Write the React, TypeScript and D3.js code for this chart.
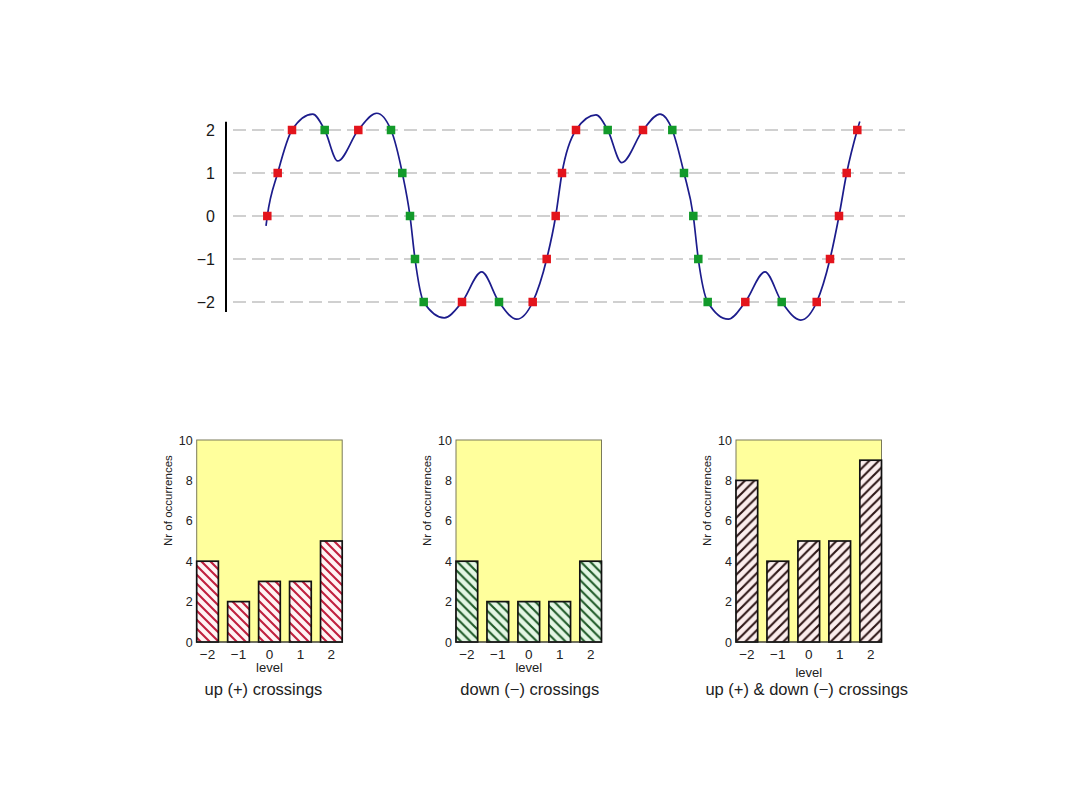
import React, { useEffect, useRef } from "react";
import * as d3 from "d3";

// samples of the signal: [time, value]
const signal: [number, number][] = [
  [40, -0.23], [41.3, 0], [51.7, 1], [66, 2], [86.7, 2.37], [98.7, 2],
  [111.7, 1.28], [132.3, 2], [150.7, 2.39], [165, 2], [176.3, 1], [184, 0],
  [189, -1], [197.7, -2], [218.3, -2.37], [236, -2], [255.7, -1.3], [273, -2],
  [290.7, -2.4], [306.7, -2], [320.7, -1], [329.7, 0], [336, 1], [350, 2],
  [370, 2.35], [381.7, 2], [395.7, 1.24], [417, 2], [434, 2.37], [446.3, 2],
  [458, 1], [467.3, 0], [472.3, -1], [481.7, -2], [502.3, -2.4], [519.3, -2],
  [539, -1.3], [555.7, -2], [574.7, -2.42], [590.7, -2], [604, -1], [613, 0],
  [620.7, 1], [631.3, 2], [633.8, 2.2],
];

// level crossings: [time, level]
const upCrossings: [number, number][] = [
  [41.3, 0], [51.7, 1], [66, 2], [132.3, 2], [236, -2], [306.7, -2],
  [320.7, -1], [329.7, 0], [336, 1], [350, 2], [417, 2], [519.3, -2],
  [590.7, -2], [604, -1], [613, 0], [620.7, 1], [631.3, 2],
];
const downCrossings: [number, number][] = [
  [98.7, 2], [165, 2], [176.3, 1], [184, 0], [189, -1], [197.7, -2],
  [273, -2], [381.7, 2], [446.3, 2], [458, 1], [467.3, 0], [472.3, -1],
  [481.7, -2], [555.7, -2],
];

const levels = [-2, -1, 0, 1, 2];
const upCounts = [4, 2, 3, 3, 5];
const downCounts = [4, 2, 2, 2, 4];
const allCounts = [8, 4, 5, 5, 9];
const countTicks = [0, 2, 4, 6, 8, 10];
const histTitles = [
  "up (+) crossings",
  "down (\u2212) crossings",
  "up (+) & down (\u2212) crossings",
];

const FONT = "'Liberation Sans', Arial, Helvetica, sans-serif";
const fmt = (d: number) => (d < 0 ? "\u2212" + Math.abs(d) : String(d));

const App: React.FC = () => {
  const svgRef = useRef<SVGSVGElement | null>(null);

  useEffect(() => {
    if (!svgRef.current) return;
    const svg = d3.select(svgRef.current);
    svg.selectAll("*").remove();

    svg.append("rect").attr("width", 1080).attr("height", 810).attr("fill", "#fff");

    // hachures
    const defs = svg.append("defs");
    const hatch = (id: string, s: number, fill: string, stroke: string, back: boolean) => {
      const p = defs
        .append("pattern")
        .attr("id", id)
        .attr("patternUnits", "userSpaceOnUse")
        .attr("width", s)
        .attr("height", s);
      p.append("rect").attr("width", s).attr("height", s).attr("fill", fill);
      const d = back
        ? `M0,0 L${s},${s} M${-s / 4},${(3 * s) / 4} l${s / 2},${s / 2} M${(3 * s) / 4},${-s / 4} l${s / 2},${s / 2}`
        : `M0,${s} L${s},0 M${-s / 4},${s / 4} l${s / 2},${-s / 2} M${(3 * s) / 4},${(5 * s) / 4} l${s / 2},${-s / 2}`;
      p.append("path").attr("d", d).attr("stroke", stroke).attr("stroke-width", 2.1);
    };
    hatch("hatchUp", 9, "#fff4f4", "#c0213f", true);
    hatch("hatchDown", 9.5, "#e4f6e4", "#1f5a28", true);
    hatch("hatchAll", 9.5, "#fbeeee", "#2e1717", false);

    // ---- signal en haut
    const x = d3.scaleLinear().domain([0, 680]).range([226, 906]);
    const y = d3.scaleLinear().domain([-2, 2]).range([302, 130]);

    const top = svg.append("g");
    top
      .selectAll("line.level")
      .data(levels)
      .enter()
      .append("line")
      .attr("x1", x(7))
      .attr("x2", x(679))
      .attr("y1", (d) => y(d))
      .attr("y2", (d) => y(d))
      .attr("stroke", "#a2a2a2")
      .attr("stroke-width", 1.2)
      .attr("stroke-dasharray", "13 6");

    top
      .append("line")
      .attr("x1", x(0))
      .attr("x2", x(0))
      .attr("y1", y(2.19))
      .attr("y2", y(-2.23))
      .attr("stroke", "#000")
      .attr("stroke-width", 2);

    top
      .selectAll("text.tick")
      .data(levels)
      .enter()
      .append("text")
      .attr("x", 215)
      .attr("y", (d) => y(d))
      .attr("dy", "0.36em")
      .attr("text-anchor", "end")
      .style("font-family", FONT)
      .style("font-size", "16px")
      .attr("fill", "#1a1a1a")
      .text((d) => fmt(d));

    const line = d3
      .line<[number, number]>()
      .x((d) => x(d[0]))
      .y((d) => y(d[1]))
      .curve(d3.curveMonotoneX);
    top
      .append("path")
      .attr("d", line(signal))
      .attr("fill", "none")
      .attr("stroke", "#1c1c8c")
      .attr("stroke-width", 1.7);

    const ms = 8.5;
    top
      .selectAll("rect.up")
      .data(upCrossings)
      .enter()
      .append("rect")
      .attr("x", (d) => x(d[0]) - ms / 2)
      .attr("y", (d) => y(d[1]) - ms / 2)
      .attr("width", ms)
      .attr("height", ms)
      .attr("fill", "#e3141c");
    top
      .selectAll("rect.down")
      .data(downCrossings)
      .enter()
      .append("rect")
      .attr("x", (d) => x(d[0]) - ms / 2)
      .attr("y", (d) => y(d[1]) - ms / 2)
      .attr("width", ms)
      .attr("height", ms)
      .attr("fill", "#129a2a");

    // ---- histogrammes
    const panels = [
      { left: 196.7, counts: upCounts, pat: "hatchUp", levelY: 672, title: histTitles[0], titleDx: -6 },
      { left: 456, counts: downCounts, pat: "hatchDown", levelY: 672, title: histTitles[1], titleDx: 1 },
      { left: 736, counts: allCounts, pat: "hatchAll", levelY: 677, title: histTitles[2], titleDx: -2 },
    ];
    const pw = 145.5;
    const hy = d3.scaleLinear().domain([0, 10]).range([642, 440]);

    panels.forEach((p) => {
      const hx = d3.scaleLinear().domain([-2.35, 2.35]).range([p.left, p.left + pw]);
      const g = svg.append("g");
      g.append("rect")
        .attr("x", p.left)
        .attr("y", hy(10))
        .attr("width", pw)
        .attr("height", hy(0) - hy(10))
        .attr("fill", "#ffff9c")
        .attr("stroke", "#7a7a5a")
        .attr("stroke-width", 1);

      g.selectAll("rect.bar")
        .data(levels)
        .enter()
        .append("rect")
        .attr("x", (d) => hx(d - 0.35))
        .attr("width", hx(0.35) - hx(-0.35))
        .attr("y", (d, i) => hy(p.counts[i]))
        .attr("height", (d, i) => hy(0) - hy(p.counts[i]))
        .attr("fill", `url(#${p.pat})`)
        .attr("stroke", "#111")
        .attr("stroke-width", 1.7);

      g.append("line")
        .attr("x1", p.left)
        .attr("x2", p.left + pw)
        .attr("y1", hy(0))
        .attr("y2", hy(0))
        .attr("stroke", "#222")
        .attr("stroke-width", 1);

      g.selectAll("text.yt")
        .data(countTicks)
        .enter()
        .append("text")
        .attr("x", p.left - 4)
        .attr("y", (d) => hy(d))
        .attr("dy", "0.36em")
        .attr("text-anchor", "end")
        .style("font-family", FONT)
        .style("font-size", "12.5px")
        .attr("fill", "#222")
        .text((d) => String(d));

      g.selectAll("text.xt")
        .data(levels)
        .enter()
        .append("text")
        .attr("x", (d) => hx(d))
        .attr("y", 659)
        .attr("text-anchor", "middle")
        .style("font-family", FONT)
        .style("font-size", "13.5px")
        .attr("fill", "#222")
        .text((d) => fmt(d));

      g.append("text")
        .attr("x", p.left + pw / 2)
        .attr("y", p.levelY)
        .attr("text-anchor", "middle")
        .style("font-family", FONT)
        .style("font-size", "13px")
        .attr("fill", "#222")
        .text("level");

      g.append("text")
        .attr("transform", `translate(${p.left - 25},${hy(7)}) rotate(-90)`)
        .attr("text-anchor", "middle")
        .style("font-family", FONT)
        .style("font-size", "11.5px")
        .attr("fill", "#222")
        .text("Nr of occurrences");

      g.append("text")
        .attr("x", p.left + pw / 2 + p.titleDx)
        .attr("y", 695)
        .attr("text-anchor", "middle")
        .style("font-family", FONT)
        .style("font-size", "16.5px")
        .attr("fill", "#222")
        .text(p.title);
    });
  }, []);

  return (
    <svg
      ref={svgRef}
      width={1080}
      height={810}
      style={{ position: "absolute", top: 0, left: 0 }}
    />
  );
};

export default App;
